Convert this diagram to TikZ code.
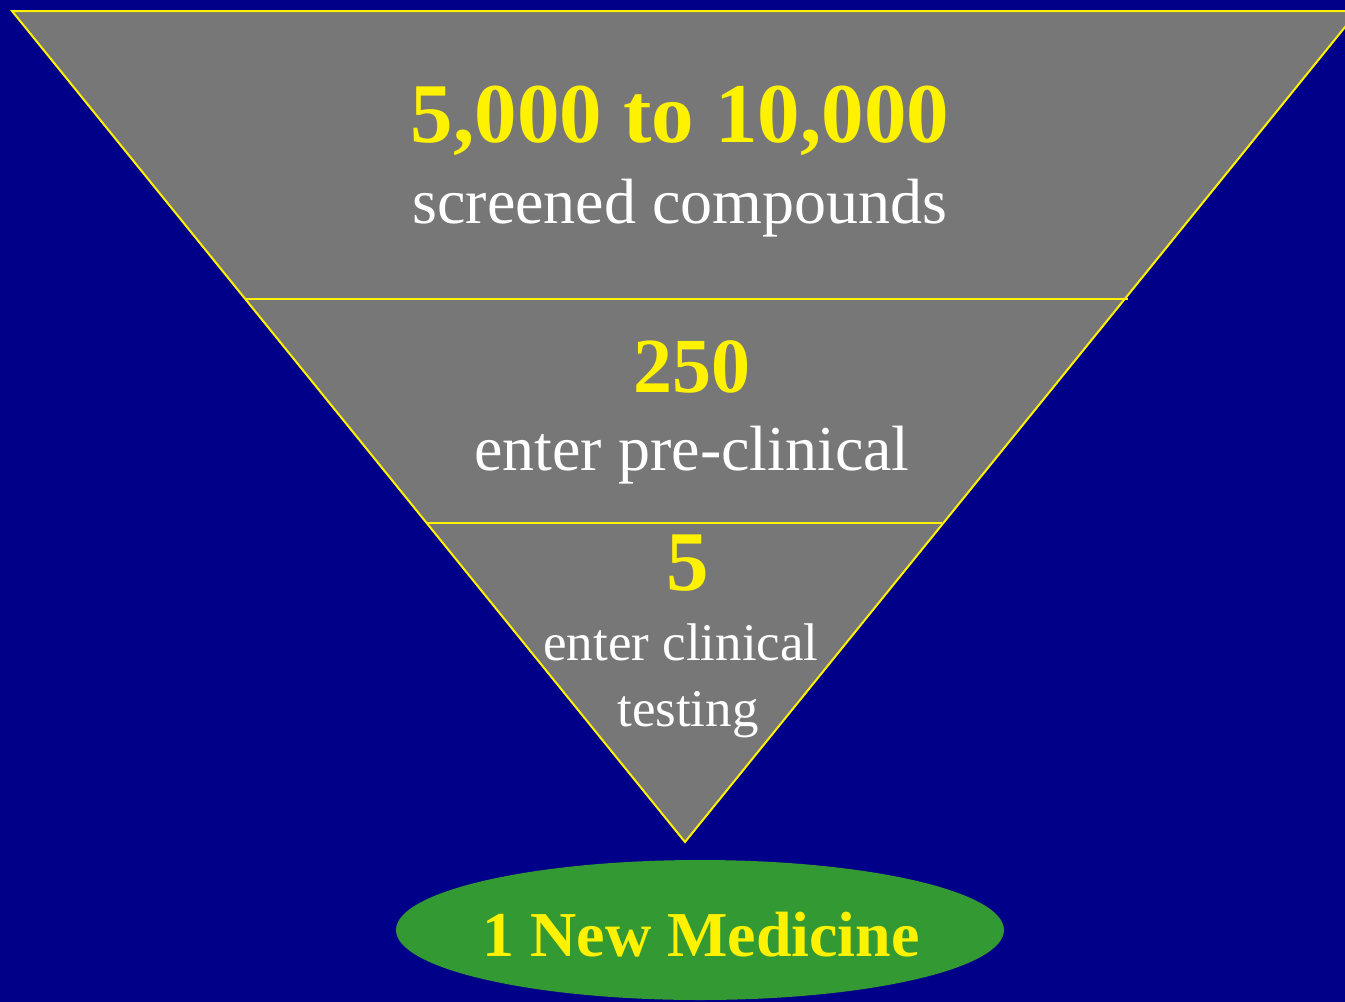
\documentclass[tikz,border=0pt]{standalone}
\usepackage{fontspec}
\setmainfont{Liberation Serif}
\definecolor{slidebg}{RGB}{0,0,136}
\definecolor{funnelgray}{RGB}{119,119,119}
\definecolor{medgreen}{RGB}{51,153,51}

\begin{document}
\begin{tikzpicture}[x=1pt, y=-1pt,
    numtext/.style={text=yellow, font=\bfseries\fontsize{85}{90}\selectfont, anchor=base},
    desctext/.style={text=white, font=\fontsize{64}{68}\selectfont, anchor=base}]

        %Background
        \useasboundingbox (0,0) rectangle (1345,1002);
        \fill [slidebg] (0,0) rectangle (1345,1002);
        \clip (0,0) rectangle (1345,1002);

        %Funnel
        \draw [line width=2pt, yellow, fill=funnelgray] (12,11) -- (1358,11) -- (685,842) -- cycle;
        \draw [line width=2pt, yellow] (245,299) -- (1128,299);
        \draw [line width=2pt, yellow] (427,523) -- (942,523);

        %Screened compounds
        \node [numtext] (screened) at (680,142) {5,000 to 10,000};
        \node [desctext] (screenedtxt) at (680,223) {screened compounds};

        %Pre-clinical
        \node [numtext, font=\bfseries\fontsize{78}{82}\selectfont] (preclin) at (692,392) {250};
        \node [desctext] (preclintxt) at (692,470) {enter pre-clinical};

        %Clinical testing
        \node [numtext] (clin) at (688,590) {5};
        \node [desctext, font=\fontsize{53}{57}\selectfont] (clintxt) at (681,660) {enter clinical};
        \node [desctext, font=\fontsize{53}{57}\selectfont] (testtxt) at (688,726) {testing};

        %New medicine
        \fill [medgreen] (700,930) ellipse [x radius=304, y radius=70];
        \node [numtext, font=\bfseries\fontsize{64}{68}\selectfont] (medicine) at (701,956) {1 New Medicine};

\end{tikzpicture}
\end{document}
